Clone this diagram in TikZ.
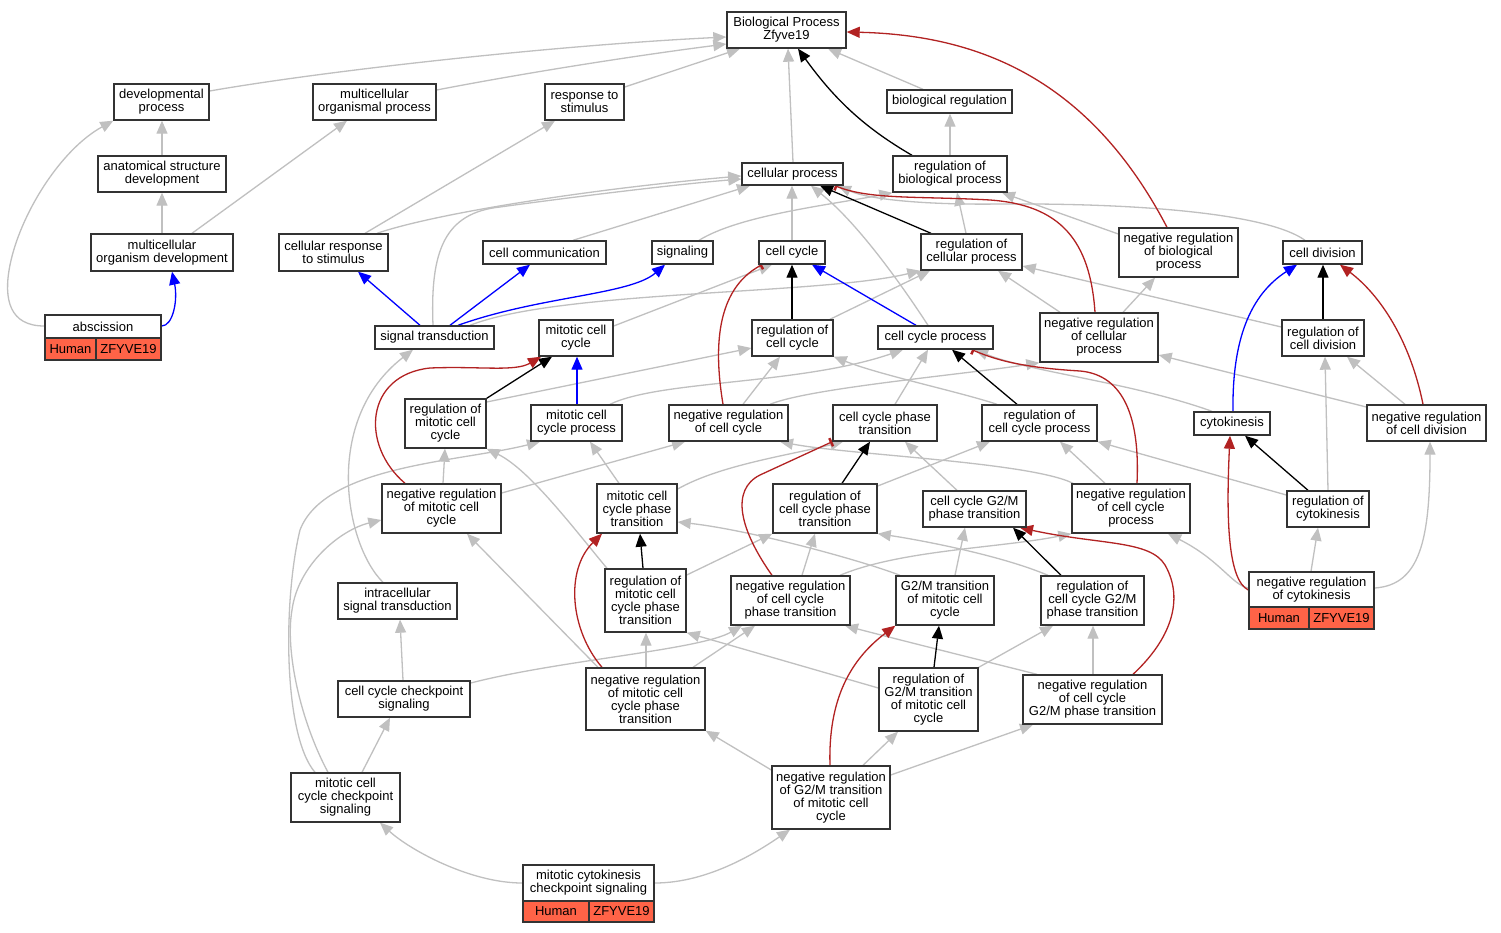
\documentclass[tikz,border=0pt]{standalone}
\usepackage{fontspec}
\setmainfont{Liberation Sans}
\usetikzlibrary{arrows.meta,fit}
\definecolor{eg}{RGB}{192,192,192}
\definecolor{er}{RGB}{178,34,34}
\definecolor{eb}{RGB}{0,0,255}
\definecolor{genec}{RGB}{255,99,71}
\pgfdeclarelayer{bg}
\pgfsetlayers{bg,main}
\tikzset{
  box/.style={draw=black!80, line width=1.4pt, fill=white, inner sep=0pt},
  gcell/.style={box, fill=genec},
  lbl/.style={inner sep=0pt, align=center, text=black, font={\fontsize{13}{13}\selectfont}, anchor=center},
  ed/.style={line width=1.3pt},
  tip/.style={-{Triangle[length=13pt,width=11pt]}},
  gy/.style={ed, draw=eg, tip},
  bk/.style={ed, draw=black, tip},
  bu/.style={ed, draw=eb, tip},
  rd/.style={ed, draw=er, tip},
  rtee/.style={ed, draw=er, -{Bar[width=9pt,line width=2.5pt]}}
}
\newcommand\bx[6]{\node[box, fit={(#2,#3) (#4,#5)}] (#1) {}; \node[lbl] (#1-t) at (#1.center) {#6};}
\newcommand\gc[6]{\node[gcell, fit={(#2,#3) (#4,#5)}] (#1) {}; \node[lbl] (#1-t) at (#1.center) {#6};}
\begin{document}
\begin{tikzpicture}[x=1pt,y=-1pt]
\useasboundingbox (0,0) rectangle (1501,933);
\begin{pgfonlayer}{bg}
\fill[white] (0,0) rectangle (1501,933);
\end{pgfonlayer}
% nodes
\bx{bp}{727}{12}{846}{48}{Biological Process\\Zfyve19}
\bx{devp}{114}{84}{209}{120}{developmental\\process}
\bx{mop}{313}{84}{436}{120}{multicellular\\organismal process}
\bx{rts}{545}{84}{624}{120}{response to\\stimulus}
\bx{breg}{887}{90}{1012}{113}{biological regulation}
\bx{asd}{98}{156}{226}{192}{anatomical structure\\development}
\bx{cp}{742}{163}{843}{185}{cellular process}
\bx{rbp}{893}{156}{1007}{192}{regulation of\\biological process}
\bx{mod}{91}{234}{233}{271}{multicellular\\organism development}
\bx{crs}{279}{234}{388}{271}{cellular response\\to stimulus}
\bx{ccom}{483}{241}{606}{264}{cell communication}
\bx{sig}{652}{241}{713}{264}{signaling}
\bx{cc}{759}{241}{825}{264}{cell cycle}
\bx{rcp}{921}{234}{1022}{270}{regulation of\\cellular process}
\bx{nrbp}{1119}{228}{1238}{277}{negative regulation\\of biological\\process}
\bx{cdiv}{1283}{241}{1362}{264}{cell division}
\bx{absc}{45}{315}{161}{338}{abscission}
\gc{abscH}{45}{338}{96}{360}{Human}
\gc{abscZ}{96}{338}{161}{360}{ZFYVE19}
\bx{st}{375}{326}{494}{349}{signal transduction}
\bx{mcc}{539}{320}{613}{356}{mitotic cell\\cycle}
\bx{rcc}{752}{320}{833}{356}{regulation of\\cell cycle}
\bx{ccp}{878}{326}{993}{349}{cell cycle process}
\bx{nrcellp}{1040}{313}{1158}{362}{negative regulation\\of cellular\\process}
\bx{rcd}{1282}{320}{1364}{356}{regulation of\\cell division}
\bx{rmcc}{405}{399}{486}{448}{regulation of\\mitotic cell\\cycle}
\bx{mccp}{531}{405}{622}{441}{mitotic cell\\cycle process}
\bx{nrcc}{669}{405}{788}{441}{negative regulation\\of cell cycle}
\bx{ccpt}{833}{405}{937}{441}{cell cycle phase\\transition}
\bx{rccp}{982}{405}{1097}{441}{regulation of\\cell cycle process}
\bx{cyto}{1194}{412}{1270}{435}{cytokinesis}
\bx{nrcd}{1367}{405}{1486}{441}{negative regulation\\of cell division}
\bx{nrmcc}{382}{484}{501}{533}{negative regulation\\of mitotic cell\\cycle}
\bx{mccpt}{597}{484}{677}{533}{mitotic cell\\cycle phase\\transition}
\bx{rccpt}{773}{484}{877}{533}{regulation of\\cell cycle phase\\transition}
\bx{g2m}{923}{491}{1026}{527}{cell cycle G2/M\\phase transition}
\bx{nrccp}{1072}{484}{1190}{533}{negative regulation\\of cell cycle\\process}
\bx{rcyto}{1287}{491}{1369}{527}{regulation of\\cytokinesis}
\bx{ist}{338}{583}{457}{619}{intracellular\\signal transduction}
\bx{rmccpt}{605}{569}{686}{632}{regulation of\\mitotic cell\\cycle phase\\transition}
\bx{nrccpt}{731}{576}{850}{625}{negative regulation\\of cell cycle\\phase transition}
\bx{g2mm}{896}{576}{994}{625}{G2/M transition\\of mitotic cell\\cycle}
\bx{rccg2m}{1041}{576}{1144}{625}{regulation of\\cell cycle G2/M\\phase transition}
\bx{nrcyto}{1249}{572}{1374}{607}{negative regulation\\of cytokinesis}
\gc{nrcytoH}{1249}{607}{1309}{629}{Human}
\gc{nrcytoZ}{1309}{607}{1374}{629}{ZFYVE19}
\bx{cccs}{338}{681}{470}{717}{cell cycle checkpoint\\signaling}
\bx{nrmccpt}{586}{668}{705}{730}{negative regulation\\of mitotic cell\\cycle phase\\transition}
\bx{rg2m}{879}{668}{978}{731}{regulation of\\G2/M transition\\of mitotic cell\\cycle}
\bx{nrccg2m}{1023}{675}{1162}{724}{negative regulation\\of cell cycle\\G2/M phase transition}
\bx{mcccs}{291}{773}{400}{822}{mitotic cell\\cycle checkpoint\\signaling}
\bx{nrg2m}{772}{766}{890}{829}{negative regulation\\of G2/M transition\\of mitotic cell\\cycle}
\bx{mcks}{523}{865}{654}{901}{mitotic cytokinesis\\checkpoint signaling}
\gc{mcksH}{523}{901}{589}{922}{Human}
\gc{mcksZ}{589}{901}{654}{922}{ZFYVE19}

\begin{pgfonlayer}{bg}
% gray edges
\draw[gy] (devp.east |- 0,91) .. controls (330,70) and (560,45) .. (bp.west |- 0,37);
\draw[gy] (mop.east |- 0,90) .. controls (530,72) and (640,55) .. (bp.west |- 0,44);
\draw[gy] (rts.east |- 0,87) -- (bp.south -| 740,0);
\draw[gy] (breg.north -| 923,0) -- (bp.south -| 828,0);
\draw[gy] (cp.north -| 793,0) -- (bp.south -| 788,0);
\draw[gy] (asd.north -| 162,0) -- (devp.south -| 162,0);
\draw[gy] (mod.north -| 162,0) -- (asd.south -| 162,0);
\draw[gy] (mod.north -| 192,0) -- (mop.south -| 347,0);
\draw[gy] (absc.west |- 0,326) .. controls (10,326) and (3,300) .. (10,265) .. controls (20,215) and (60,150) .. (devp.south west);
\draw[gy] (crs.north -| 365,0) -- (rts.south -| 555,0);
\draw[gy] (crs.north -| 377,0) .. controls (440,212) and (600,188) .. (cp.west |- 0,176);
\draw[gy] (st.north -| 433,0) .. controls (430,250) and (445,213) .. (500,207) .. controls (580,196) and (680,184) .. (cp.west |- 0,179);
\draw[gy] (st.north -| 470,0) .. controls (560,290) and (820,295) .. (rcp.south west);
\draw[gy] (ccom.north -| 573,0) -- (cp.south -| 750,0);
\draw[gy] (sig.north -| 699,0) .. controls (740,215) and (830,205) .. (rbp.south west);
\draw[gy] (cc.north -| 792,0) -- (cp.south -| 792,0);
\draw[gy] (ccp.north -| 928,0) .. controls (905,290) and (860,225) .. (cp.south -| 811,0);
\draw[gy] (cdiv.north -| 1305,0) .. controls (1270,215) and (1150,203) .. (1000,204) .. controls (930,205) and (870,200) .. (cp.south -| 838,0);
\draw[gy] (rcp.north -| 966,0) -- (rbp.south -| 957,0);
\draw[gy] (nrbp.west |- 0,234) -- (rbp.south -| 1002,0);
\draw[gy] (rbp.north -| 950,0) -- (breg.south -| 950,0);
\draw[gy] (nrcellp.north -| 1060,0) -- (rcp.south -| 998,0);
\draw[gy] (nrcellp.north -| 1123,0) -- (nrbp.south -| 1155,0);
\draw[gy] (rcd.west |- 0,327) -- (rcp.east |- 0,266);
\draw[gy] (cyto.north -| 1212,0) .. controls (1130,382) and (1030,372) .. (ccp.south -| 975,0);
\draw[gy] (ccpt.north -| 895,0) -- (ccp.south -| 928,0);
\draw[gy] (mccp.north -| 610,0) .. controls (660,380) and (800,385) .. (ccp.south -| 903,0);
\draw[gy] (mcc.east |- 0,326) -- (cc.south -| 772,0);
\draw[gy] (rcc.north -| 830,0) -- (rcp.south -| 930,0);
\draw[gy] (rmcc.east |- 0,402) -- (rcc.west |- 0,348);
\draw[gy] (nrmcc.north -| 443,0) -- (rmcc.south -| 445,0);
\draw[gy] (nrmcc.east |- 0,493) -- (nrcc.south -| 685,0);
\draw[gy] (mccpt.north -| 619,0) -- (mccp.south -| 590,0);
\draw[gy] (mccpt.east |- 0,489) .. controls (720,465) and (790,455) .. (ccpt.south -| 843,0);
\draw[gy] (rmccpt.north -| 607,0) .. controls (575,530) and (530,470) .. (rmcc.south east);
\draw[gy] (rmccpt.east |- 0,575) -- (rccpt.south west);
\draw[gy] (nrmccpt.north -| 646,0) -- (rmccpt.south -| 646,0);
\draw[gy] (nrmccpt.north -| 693,0) -- (nrccpt.south -| 755,0);
\draw[gy] (nrmccpt.north -| 598,0) -- (nrmcc.south -| 467,0);
\draw[gy] (ist.north -| 383,0) .. controls (345,545) and (322,420) .. (st.south -| 413,0);
\draw[gy] (cccs.north -| 403,0) -- (ist.south -| 400,0);
\draw[gy] (cccs.east |- 0,683) .. controls (560,660) and (700,650) .. (nrccpt.south -| 742,0);
\draw[gy] (mcccs.north -| 362,0) -- (cccs.south -| 390,0);
\draw[gy] (mcccs.north -| 315,0) .. controls (283,735) and (283,600) .. (300,530) .. controls (325,465) and (460,462) .. (mccp.south -| 540,0);
\draw[gy] (mcccs.north -| 328,0) .. controls (300,720) and (285,650) .. (292,610) .. controls (298,565) and (340,530) .. (nrmcc.west |- 0,520);
\draw[gy] (mcks.west |- 0,883) .. controls (470,883) and (410,850) .. (mcccs.south -| 380,0);
\draw[gy] (mcks.east |- 0,883) .. controls (710,883) and (760,850) .. (nrg2m.south -| 790,0);
\draw[gy] (nrccpt.north -| 802,0) -- (rccpt.south -| 815,0);
\draw[gy] (nrccpt.north -| 840,0) .. controls (900,550) and (1000,548) .. (nrccp.south west);
\draw[gy] (g2mm.north -| 955,0) -- (g2m.south -| 965,0);
\draw[gy] (g2mm.north -| 900,0) .. controls (860,560) and (750,530) .. (mccpt.east |- 0,522);
\draw[gy] (rg2m.west |- 0,688) -- (rmccpt.south east);
\draw[gy] (rg2m.north east) -- (rccg2m.south -| 1053,0);
\draw[gy] (nrg2m.north -| 863,0) -- (rg2m.south -| 898,0);
\draw[gy] (nrg2m.west |- 0,770) -- (nrmccpt.south east);
\draw[gy] (nrg2m.east |- 0,775) -- (nrccg2m.south -| 1033,0);
\draw[gy] (rccg2m.north -| 1048,0) .. controls (1000,555) and (920,540) .. (rccpt.south east);
\draw[gy] (nrccg2m.north -| 1093,0) -- (rccg2m.south -| 1093,0);
\draw[gy] (nrccg2m.north -| 1037,0) .. controls (960,655) and (900,640) .. (nrccpt.south -| 845,0);
\draw[gy] (g2m.north -| 957,0) -- (ccpt.south -| 905,0);
\draw[gy] (rccpt.east |- 0,486) -- (rccp.south -| 990,0);
\draw[gy] (rccp.north -| 997,0) .. controls (960,392) and (880,375) .. (rcc.south east);
\draw[gy] (nrccp.north -| 1105,0) -- (rccp.south -| 1060,0);
\draw[gy] (nrccp.north -| 1073,0) .. controls (1030,462) and (850,455) .. (nrcc.south -| 780,0);
\draw[gy] (rcyto.west |- 0,495) -- (rccp.south east);
\draw[gy] (rcyto.north -| 1328,0) -- (rcd.south -| 1325,0);
\draw[gy] (nrcd.north -| 1405,0) -- (rcd.south -| 1347,0);
\draw[gy] (nrcd.west |- 0,407) -- (nrcellp.east |- 0,355);
\draw[gy] (nrcyto.north -| 1311,0) -- (rcyto.south -| 1318,0);
\draw[gy] (nrcyto.east |- 0,588) .. controls (1420,585) and (1430,540) .. (nrcd.south -| 1430,0);
\draw[gy] (nrcyto.west |- 0,588) .. controls (1232,585) and (1220,560) .. (nrccp.south -| 1168,0);
\draw[gy] (nrcc.north -| 743,0) -- (rcc.south -| 780,0);
\draw[gy] (nrcc.north -| 770,0) .. controls (810,388) and (960,375) .. (nrcellp.south west);
% blue edges
\draw[bu] (absc.east |- 0,326) .. controls (173,326) and (178,300) .. (mod.south -| 172,0);
\draw[bu] (st.north -| 420,0) -- (crs.south -| 358,0);
\draw[bu] (st.north -| 450,0) -- (ccom.south -| 530,0);
\draw[bu] (st.north -| 458,0) .. controls (540,296) and (630,295) .. (sig.south -| 665,0);
\draw[bu] (ccp.north -| 916,0) -- (cc.south -| 812,0);
\draw[bu] (mccp.north -| 577,0) -- (mcc.south -| 577,0);
\draw[bu] (cyto.north -| 1233,0) .. controls (1232,340) and (1250,295) .. (cdiv.south -| 1297,0);
% black edges
\draw[bk] (rbp.north -| 912,0) .. controls (865,128) and (835,100) .. (bp.south -| 798,0);
\draw[bk] (rcp.north -| 931,0) -- (cp.south -| 820,0);
\draw[bk] (rcd.north -| 1323,0) -- (cdiv.south -| 1323,0);
\draw[bk] (rcc.north -| 792,0) -- (cc.south -| 792,0);
\draw[bk] (rccp.north -| 1017,0) -- (ccp.south -| 952,0);
\draw[bk] (rmcc.north east) -- (mcc.south -| 552,0);
\draw[bk] (rmccpt.north -| 643,0) -- (mccpt.south -| 640,0);
\draw[bk] (rg2m.north -| 934,0) -- (g2mm.south -| 939,0);
\draw[bk] (rccg2m.north -| 1061,0) -- (g2m.south -| 1013,0);
\draw[bk] (rccpt.north -| 842,0) -- (ccpt.south -| 870,0);
\draw[bk] (rcyto.north -| 1308,0) -- (cyto.south -| 1245,0);
% red edges
\draw[rd] (nrbp.north -| 1167,0) .. controls (1090,80) and (980,35) .. (bp.east |- 0,32);
\draw[rd] (nrcd.north -| 1423,0) .. controls (1410,340) and (1380,295) .. (cdiv.south -| 1340,0);
\draw[rd] (nrmcc.north -| 405,0) .. controls (360,445) and (365,375) .. (430,368) .. controls (480,366) and (515,372) .. (mcc.south -| 541,0);
\draw[rd] (nrmccpt.north -| 602,0) .. controls (570,630) and (565,570) .. (mccpt.south -| 602,0);
\draw[rd] (nrg2m.north -| 830,0) .. controls (828,700) and (850,660) .. (g2mm.south west);
\draw[rd] (nrccg2m.north -| 1133,0) .. controls (1170,640) and (1185,600) .. (1165,565) .. controls (1150,540) and (1100,545) .. (g2m.south -| 1020,0);
\draw[rd] (nrcyto.west |- 0,590) .. controls (1228,580) and (1226,520) .. (cyto.south -| 1230,0);
\draw[rtee] (nrcellp.north -| 1095,0) .. controls (1090,240) and (1060,205) .. (990,200) .. controls (920,196) and (870,200) .. (cp.south -| 835,0);
\draw[rtee] (nrcc.north -| 723,0) .. controls (714,350) and (715,290) .. (cc.south -| 762,0);
\draw[rtee] (nrccp.north -| 1137,0) .. controls (1140,420) and (1125,375) .. (1080,371) .. controls (1030,368) and (1000,362) .. (ccp.south -| 972,0);
\draw[rtee] (nrccpt.north -| 772,0) .. controls (740,530) and (730,490) .. (760,475) -- (ccpt.south west);
\end{pgfonlayer}
\end{tikzpicture}
\end{document}
